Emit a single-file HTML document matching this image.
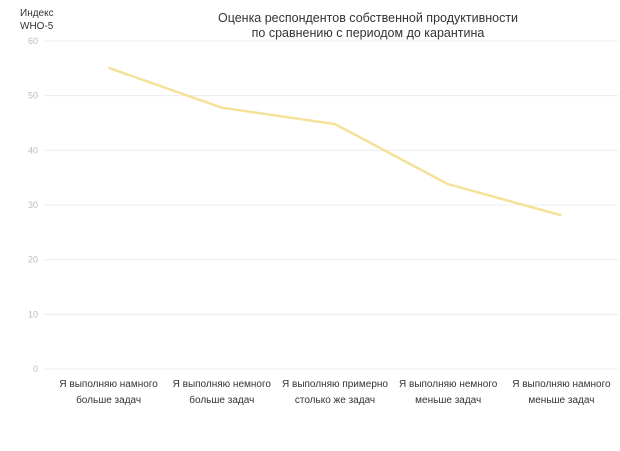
<!DOCTYPE html>
<html><head><meta charset="utf-8"><style>
body{margin:0;background:#fff;font-family:"Liberation Sans",sans-serif;}
svg text{font-family:"Liberation Sans",sans-serif;}
</style></head><body>
<svg width="620" height="446">
<text x="368" y="22" text-anchor="middle" font-size="12.5" fill="#333">Оценка респондентов собственной продуктивности</text>
<text x="368" y="37" text-anchor="middle" font-size="12.5" fill="#333">по сравнению с периодом до карантина</text>
<text x="20" y="16" font-size="10" fill="#333">Индекс</text>
<text x="20" y="29" font-size="10" fill="#333">WHO-5</text>
<g id="grid"></g><g id="xl"></g><g id="series"></g>
</svg>
<script>
const categories=[["Я выполняю намного","больше задач"],["Я выполняю немного","больше задач"],["Я выполняю примерно","столько же задач"],["Я выполняю немного","меньше задач"],["Я выполняю намного","меньше задач"]];
const values=[55.1,47.8,44.8,33.8,28.1];
const ticks=[0,10,20,30,40,50,60];
const NS="http://www.w3.org/2000/svg";
const x0=52,x1=618,yTop=41,yBot=369,yMax=60;
const y=v=>yBot-(v/yMax)*(yBot-yTop);
const bw=(x1-x0)/categories.length;
const x=i=>x0+bw*(i+0.5);
const grid=document.getElementById('grid');
ticks.forEach(t=>{
 const l=document.createElementNS(NS,'line');
 l.setAttribute('x1',45);l.setAttribute('x2',618);l.setAttribute('y1',y(t));l.setAttribute('y2',y(t));
 l.setAttribute('stroke','#ececec');l.setAttribute('stroke-width','1');
 
 
 grid.appendChild(l);
 const tx=document.createElementNS(NS,'text');
 tx.setAttribute('x',38);tx.setAttribute('y',y(t)+3);tx.setAttribute('text-anchor','end');
 tx.setAttribute('font-size','9');tx.setAttribute('fill','#bbb');tx.textContent=t;
 
 
 grid.appendChild(tx);
});
const xl=document.getElementById('xl');
categories.forEach((c,i)=>{
 c.forEach((s,j)=>{
  const tx=document.createElementNS(NS,'text');
  tx.setAttribute('x',x(i));tx.setAttribute('y',387+j*16);tx.setAttribute('text-anchor','middle');
  tx.setAttribute('font-size','10');tx.setAttribute('fill','#333');tx.textContent=s;
  
  
  xl.appendChild(tx);
 });
});
const p=document.createElementNS(NS,'polyline');
p.setAttribute('points',values.map((v,i)=>x(i)+','+y(v)).join(' '));
p.setAttribute('fill','none');p.setAttribute('stroke','#f5e29a');p.setAttribute('stroke-width','2.5');
p.setAttribute('stroke-linejoin','round');


document.getElementById('series').appendChild(p);
</script>
</body></html>
